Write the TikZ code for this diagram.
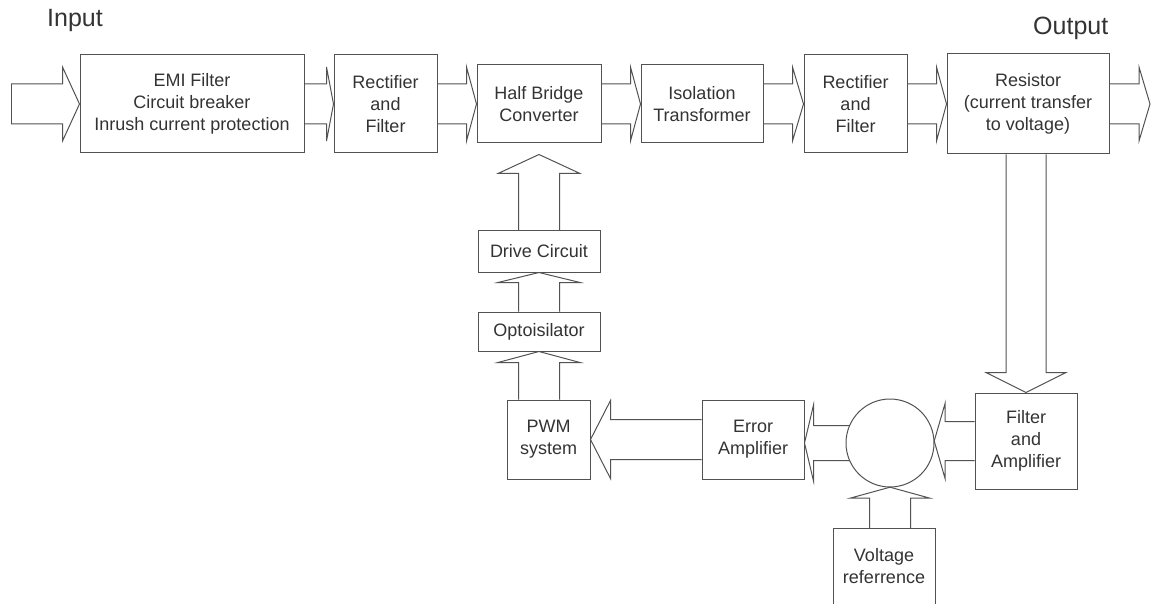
\documentclass[tikz,border=0pt]{standalone}
\usepackage{fontspec}
\setmainfont{Liberation Sans}
\usetikzlibrary{calc}
\definecolor{linec}{gray}{0.32}
\definecolor{txtc}{gray}{0.2}
\newcommand\boxfont{\fontsize{18}{21.7}\selectfont}
\newcommand\lblfont{\fontsize{25}{28}\selectfont}
% block arrows: #1 tail, #2 tip, #3 half shaft, #4 half head, #5 head length
\newcommand\arrR[5]{\draw[blk] ($(#1)+(0,-#3)$) -- ($(#2)+(-#5,-#3)$) -- ($(#2)+(-#5,-#4)$) -- (#2) -- ($(#2)+(-#5,#4)$) -- ($(#2)+(-#5,#3)$) -- ($(#1)+(0,#3)$);}
\newcommand\arrL[5]{\draw[blk] ($(#1)+(0,-#3)$) -- ($(#2)+(#5,-#3)$) -- ($(#2)+(#5,-#4)$) -- (#2) -- ($(#2)+(#5,#4)$) -- ($(#2)+(#5,#3)$) -- ($(#1)+(0,#3)$);}
\newcommand\arrU[5]{\draw[blk] ($(#1)+(-#3,0)$) -- ($(#2)+(-#3,#5)$) -- ($(#2)+(-#4,#5)$) -- (#2) -- ($(#2)+(#4,#5)$) -- ($(#2)+(#3,#5)$) -- ($(#1)+(#3,0)$);}
\newcommand\arrD[5]{\draw[blk] ($(#1)+(-#3,0)$) -- ($(#2)+(-#3,-#5)$) -- ($(#2)+(-#4,-#5)$) -- (#2) -- ($(#2)+(#4,-#5)$) -- ($(#2)+(#3,-#5)$) -- ($(#1)+(#3,0)$);}
\begin{document}
\begin{tikzpicture}[x=1pt,y=-1pt,
  box/.style={draw=linec, line width=1pt, inner sep=0pt, align=center, font=\boxfont, text=txtc},
  txt/.style={inner sep=0pt, align=center, font=\boxfont, text=txtc},
  lbl/.style={inner sep=0pt, font=\lblfont, text=txtc},
  blk/.style={draw=linec, line width=1pt, line join=miter}]
\useasboundingbox (0,0) rectangle (1151,604);
% labels
\node[lbl, anchor=base west] (inlbl) at (47,27) {Input};
\node[lbl, anchor=base west] (outlbl) at (1033,35) {Output};
% top row
\node[box, minimum width=224pt, minimum height=98pt] (emi) at (192,104) {EMI Filter\\Circuit breaker\\Inrush current protection};
\node[box, minimum width=103pt, minimum height=98pt] (rect1) at (385.5,104) {Rectifier\\and\\Filter};
\node[box, minimum width=124pt, minimum height=78pt] (hb) at (539,104) {Half Bridge\\Converter};
\node[box, minimum width=122pt, minimum height=78pt] (iso) at (702,104) {Isolation\\Transformer};
\node[box, minimum width=103pt, minimum height=98pt] (rect2) at (855.5,104) {Rectifier\\and\\Filter};
\node[box, minimum width=162pt, minimum height=100pt] (res) at (1028,104) {Resistor\\(current transfer\\to voltage)};
% feedback column
\node[box, minimum width=122pt, minimum height=41pt] (drive) at (539,251.5) {Drive Circuit};
\node[box, minimum width=122pt, minimum height=39pt] (opto) at (539,331.5) {Optoisilator};
\node[box, minimum width=83pt, minimum height=79pt] (pwm) at (548.5,439.5) {PWM\\system};
\node[box, minimum width=102pt, minimum height=79pt] (err) at (753,439.5) {Error\\Amplifier};
\node[box, minimum width=102pt, minimum height=96pt] (filt) at (1026,441) {Filter\\and\\Amplifier};
\node[txt] (vref) at (884,566) {Voltage\\referrence};
\coordinate (vtl) at (833,528);
\coordinate (vtr) at (935,528);
\draw[box] (833,604) -- (vtl) -- (vtr) -- (935,604);
\coordinate (inp) at (11,104);
\coordinate (outp) at (1150,104);
\node[circle, minimum size=88pt, inner sep=0pt] (circ) at (890,443) {};
% top arrows
\arrR{inp}{emi.west}{20}{37}{17}
\draw[blk] ($(inp)+(0,-20)$) -- ($(inp)+(0,20)$);
\arrR{emi.east}{rect1.west}{20}{37}{7}
\arrR{rect1.east}{hb.west}{20}{37}{10}
\arrR{hb.east}{iso.west}{20}{37}{10}
\arrR{iso.east}{rect2.west}{20}{37}{11}
\arrR{rect2.east}{res.west}{20}{37}{10}
\arrR{res.east}{outp}{20}{37}{11}
% feedback arrows
\coordinate (hbtip) at ($(hb.south)+(0,11)$);
\arrU{drive.north}{hbtip}{20.5}{41}{19}
\arrU{opto.north}{drive.south}{20.5}{41}{10}
\arrU{pwm.north -| opto.south}{opto.south}{20.5}{41}{11}
\arrD{res.south -| filt.north}{filt.north}{20}{40}{20}
\arrL{err.west}{pwm.east}{20}{39}{20}
\arrL{circ.center}{err.east |- circ.center}{17.5}{38}{9}
\arrL{filt.west}{circ.east |- filt.west}{19.5}{38}{11}
\arrU{circ.south |- vtl}{circ.south}{20.5}{40}{11}
\draw[blk, fill=white] (circ) circle[radius=44pt];
\end{tikzpicture}
\end{document}
